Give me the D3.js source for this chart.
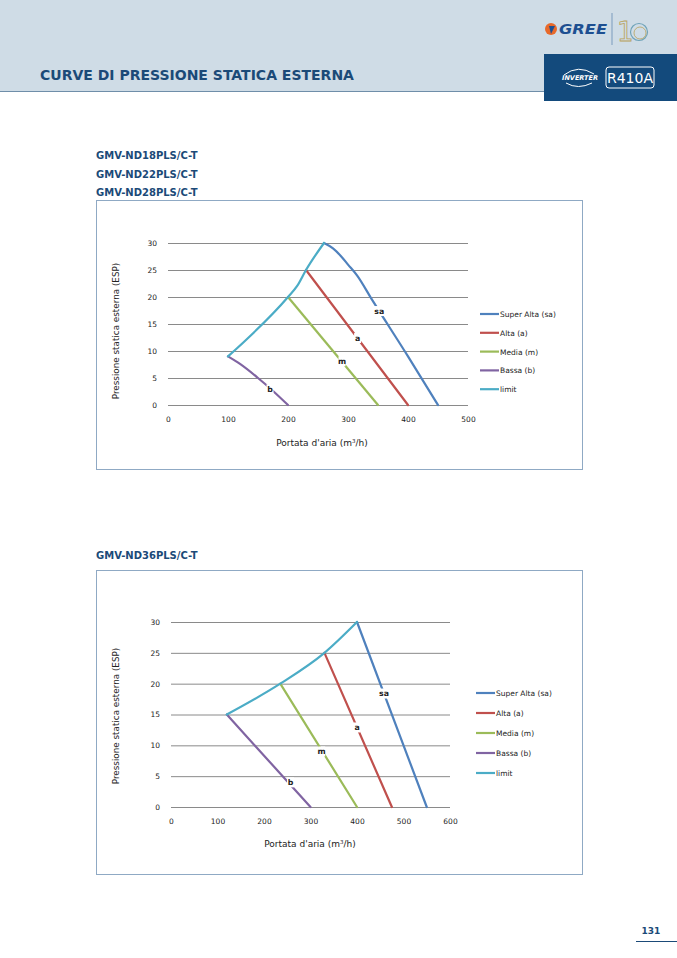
<!DOCTYPE html>
<html>
<head>
<meta charset="utf-8">
<script src="https://cdn.jsdelivr.net/npm/d3@7"></script>
<style>
  body { margin: 0; background: #fff; }
  svg { display: block; font-family: "DejaVu Sans", sans-serif; }
</style>
</head>
<body>
<svg id="page"></svg>
<script>
// chart 1: GMV-ND18/22/28
let xTicks1 = [0, 100, 200, 300, 400, 500];
let yTicks1 = [0, 5, 10, 15, 20, 25, 30];
let sa1 = [[260, 30], [275, 29], [288, 27.6], [300, 26], [315, 24], [340, 19.5], [400, 9], [450, 0]];
let a1 = [[230, 25], [400, 0]];
let m1 = [[200, 20], [350, 0]];
let b1 = [[100, 9], [120, 7.6], [150, 5], [175, 2.6], [200, 0]];
let limit1 = [[100, 9], [200, 20], [215, 22], [230, 25], [260, 30]];
let labels1 = [["sa", 352, 17.4], ["a", 316, 12.4], ["m", 290, 8.1], ["b", 170, 2.9]];

// chart 2: GMV-ND36
let xTicks2 = [0, 100, 200, 300, 400, 500, 600];
let yTicks2 = [0, 5, 10, 15, 20, 25, 30];
let sa2 = [[400, 30], [550, 0]];
let a2 = [[330, 25], [475, 0]];
let m2 = [[235, 20], [400, 0]];
let b2 = [[120, 15], [300, 0]];
let limit2 = [[120, 15], [235, 20], [330, 25], [400, 30]];
let labels2 = [["sa", 458, 18.4], ["a", 400, 12.9], ["m", 324, 9.0], ["b", 257, 4.0]];

let seriesNames = ["Super Alta (sa)", "Alta (a)", "Media (m)", "Bassa (b)", "limit"];
let seriesColors = ["#4f81bd", "#c0504d", "#9bbb59", "#8064a2", "#4bacc6"];

let width = 677;
let height = 958;
let navy = "#1b4a78";

let svg = d3.select("#page").attr("width", width).attr("height", height);

let drawHeader = () => {
    svg.append("rect").attr("x", 0).attr("y", 0).attr("width", width).attr("height", 91).attr("fill", "#cfdce6");
    svg.append("line").attr("x1", 0).attr("x2", 545).attr("y1", 91.5).attr("y2", 91.5)
        .attr("stroke", "#6f8ea9").attr("stroke-width", 1);
    svg.append("text").attr("x", 40).attr("y", 80)
        .attr("font-size", 14).attr("font-weight", "bold").attr("fill", navy)
        .text("CURVE DI PRESSIONE STATICA ESTERNA");

    // GREE logo
    svg.append("circle").attr("cx", 551).attr("cy", 29).attr("r", 6).attr("fill", "#e8692a");
    svg.append("path").attr("d", "M549,26 L555,26 L551,34 Z").attr("fill", "#1d4f91");
    svg.append("text").attr("x", 559).attr("y", 34).attr("font-size", 14).attr("font-weight", "bold")
        .attr("font-style", "italic").attr("fill", "#1d4f91")
        .attr("textLength", 48).attr("lengthAdjust", "spacingAndGlyphs").text("GREE");
    svg.append("line").attr("x1", 612).attr("x2", 612).attr("y1", 13).attr("y2", 45).attr("stroke", "#7a9bbd");
    svg.append("text").attr("x", 617).attr("y", 41).attr("font-size", 26).attr("fill", "none")
        .attr("stroke", "#b9a25a").attr("stroke-width", 0.8).text("1");
    svg.append("circle").attr("cx", 639).attr("cy", 32).attr("r", 8.5).attr("fill", "none")
        .attr("stroke", "#6fa3b8").attr("stroke-width", 1.2);
    svg.append("circle").attr("cx", 640).attr("cy", 33).attr("r", 6).attr("fill", "none")
        .attr("stroke", "#b9a25a").attr("stroke-width", 0.8);

    // dark box with INVERTER / R410A
    svg.append("rect").attr("x", 544).attr("y", 54).attr("width", 133).attr("height", 47).attr("fill", "#134a7c");
    svg.append("text").attr("x", 562).attr("y", 80).attr("font-size", 6.5).attr("font-weight", "bold")
        .attr("font-style", "italic").attr("fill", "#fff").text("INVERTER");
    svg.append("path").attr("d", "M564,75 Q578,64 594,74").attr("fill", "none").attr("stroke", "#fff").attr("stroke-width", 1);
    svg.append("path").attr("d", "M566,83 Q578,90 592,83").attr("fill", "none").attr("stroke", "#fff").attr("stroke-width", 1);
    svg.append("rect").attr("x", 606).attr("y", 67).attr("width", 48).attr("height", 21).attr("rx", 3)
        .attr("fill", "none").attr("stroke", "#fff").attr("stroke-width", 1);
    svg.append("text").attr("x", 630).attr("y", 83).attr("text-anchor", "middle").attr("font-size", 14)
        .attr("fill", "#fff").text("R410A");

    // page number
    svg.append("text").attr("x", 651).attr("y", 934).attr("text-anchor", "middle").attr("font-size", 9)
        .attr("font-weight", "bold").attr("fill", navy).text("131");
    svg.append("line").attr("x1", 636).attr("x2", 677).attr("y1", 941.5).attr("y2", 941.5)
        .attr("stroke", navy).attr("stroke-width", 1);
};

let drawChart = (cfg) => {
    // model titles
    cfg.models.forEach((name, i) => {
        svg.append("text").attr("x", 96).attr("y", cfg.modelY + i * 18.5)
            .attr("font-size", 10).attr("font-weight", "bold").attr("fill", navy).text(name);
    });

    // frame
    svg.append("rect").attr("x", cfg.box[0] + 0.5).attr("y", cfg.box[1] + 0.5)
        .attr("width", cfg.box[2]).attr("height", cfg.box[3])
        .attr("fill", "#fff").attr("stroke", "#8fa9c4").attr("stroke-width", 1);

    let xScale = d3.scaleLinear().domain([0, d3.max(cfg.xTicks)]).range([cfg.plot[0], cfg.plot[1]]);
    let yScale = d3.scaleLinear().domain([0, d3.max(cfg.yTicks)]).range([cfg.plot[3], cfg.plot[2]]);

    // horizontal gridlines
    let yAxis = d3.axisLeft(yScale).tickValues(cfg.yTicks)
        .tickSize(-(cfg.plot[1] - cfg.plot[0])).tickPadding(11);
    let gy = svg.append("g").attr("transform", "translate(" + cfg.plot[0] + ",0)").call(yAxis);
    gy.select(".domain").remove();
    gy.selectAll(".tick line").attr("stroke", "#8a8a8a").attr("stroke-width", 1);
    gy.selectAll(".tick text").attr("font-size", 7.5).attr("font-family", "DejaVu Sans").attr("fill", "#222");

    let xAxis = d3.axisBottom(xScale).tickValues(cfg.xTicks).tickSize(0).tickPadding(12);
    let gx = svg.append("g").attr("transform", "translate(0," + cfg.plot[3] + ")").call(xAxis);
    gx.select(".domain").remove();
    gx.selectAll(".tick text").attr("font-size", 7.5).attr("font-family", "DejaVu Sans").attr("fill", "#222");

    // axis titles
    let xt = svg.append("text").attr("x", cfg.xTitle[0]).attr("y", cfg.xTitle[1]).attr("text-anchor", "middle")
        .attr("font-size", 9).attr("fill", "#222");
    xt.append("tspan").text("Portata d'aria (m");
    xt.append("tspan").attr("font-size", 5.5).attr("dy", -3.5).text("3");
    xt.append("tspan").attr("dy", 3.5).text("/h)");
    svg.append("text")
        .attr("transform", "translate(" + cfg.yTitle[0] + "," + cfg.yTitle[1] + ") rotate(-90)")
        .attr("text-anchor", "middle").attr("font-size", 8.8).attr("fill", "#222")
        .text("Pressione statica esterna (ESP)");

    // series lines
    let line = d3.line().x(d => xScale(d[0])).y(d => yScale(d[1])).curve(d3.curveMonotoneX);
    cfg.series.forEach((s, i) => {
        svg.append("path").datum(s).attr("d", line).attr("fill", "none")
            .attr("stroke", seriesColors[i]).attr("stroke-width", 2.2)
            .attr("stroke-linejoin", "round").attr("stroke-linecap", "round");
    });

    // data labels on the lines
    cfg.labels.forEach(l => {
        let g = svg.append("g").attr("transform", "translate(" + xScale(l[1]) + "," + yScale(l[2]) + ")");
        let w = l[0].length * 5 + 2;
        g.append("rect").attr("x", -w / 2).attr("y", -5).attr("width", w).attr("height", 10).attr("fill", "#fff");
        g.append("text").attr("text-anchor", "middle").attr("y", 2.8).attr("font-size", 7.8)
            .attr("font-weight", "bold").attr("fill", "#222").text(l[0]);
    });

    // legend
    seriesNames.forEach((name, i) => {
        let y = cfg.legend[1] + i * cfg.legend[2];
        svg.append("line").attr("x1", cfg.legend[0]).attr("x2", cfg.legend[0] + 19)
            .attr("y1", y).attr("y2", y).attr("stroke", seriesColors[i]).attr("stroke-width", 2.2);
        svg.append("text").attr("x", cfg.legend[0] + 20).attr("y", y + 3)
            .attr("font-size", 7.5).attr("fill", "#222").text(name);
    });
};

drawHeader();

drawChart({
    models: ["GMV-ND18PLS/C-T", "GMV-ND22PLS/C-T", "GMV-ND28PLS/C-T"],
    modelY: 159,
    box: [96, 200, 486, 269],
    plot: [168, 468, 243, 405],
    xTicks: xTicks1, yTicks: yTicks1,
    series: [sa1, a1, m1, b1, limit1],
    labels: labels1,
    xTitle: [322, 446],
    yTitle: [119, 331],
    legend: [480, 314, 18.8]
});

drawChart({
    models: ["GMV-ND36PLS/C-T"],
    modelY: 559,
    box: [96, 570, 486, 304],
    plot: [171, 450, 622, 807],
    xTicks: xTicks2, yTicks: yTicks2,
    series: [sa2, a2, m2, b2, limit2],
    labels: labels2,
    xTitle: [310, 847],
    yTitle: [119, 716],
    legend: [476, 693, 20]
});
</script>
</body>
</html>
